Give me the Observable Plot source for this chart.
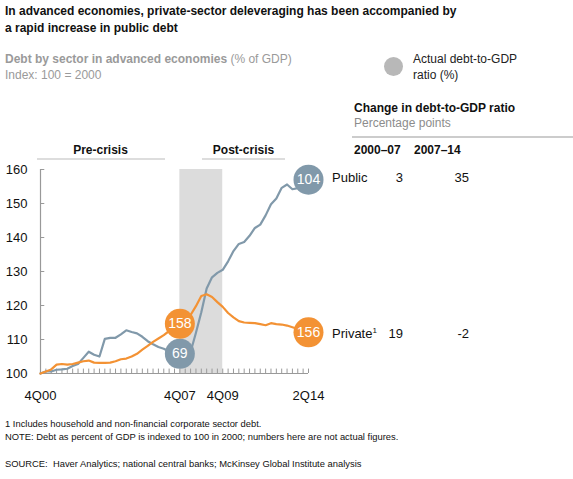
<!DOCTYPE html>
<html>
<head>
<meta charset="utf-8">
<script src="https://cdn.jsdelivr.net/npm/d3@7"></script>
<script src="https://cdn.jsdelivr.net/npm/@observablehq/plot@0.6"></script>
<style>
  html, body { margin: 0; padding: 0; background: #fff; }
  #root { position: relative; width: 573px; height: 479px; font-family: "Liberation Sans", Arial, Helvetica, sans-serif; overflow: hidden; }
  #root svg { position: absolute; left: 0; top: 0; }
  .t { position: absolute; white-space: nowrap; line-height: 1; }
</style>
</head>
<body>
<div id="root"></div>
<script>
// ---- data ----
const tickPos = [0, 26, 34, 50];
const tickLabels = ["4Q00", "4Q07", "4Q09", "2Q14"];
const yTicks = [100, 110, 120, 130, 140, 150, 160];
const bandStart = 26, bandEnd = 34;
const publicIdx = [100,100.6,100.6,101.1,101.2,101.4,102.2,102.8,104.6,106.4,105.5,105,110.2,110.5,110.5,111.5,112.7,112.2,111.8,110.8,109.5,108.6,107.8,107.3,106.5,106,105.8,106,106.3,112,118,125,128.3,129.6,130.5,133,136,138.1,138.7,140.5,142.8,143.8,146.5,149.8,151.5,154.6,155.6,154.2,154.5,156,157];
const privateIdx = [100,100.6,101.2,102.6,102.8,102.6,102.8,103.2,103.6,103.8,103.2,103.1,103.1,103.2,103.6,104.2,104.4,105,105.8,107,108.1,109.3,110.3,111.3,112.5,113.6,114.6,115.8,117.2,119.8,122.8,123.3,122.5,121,119.6,117.8,116.5,115.4,115,114.9,114.8,114.5,114.2,114.8,114.5,114.4,114.1,113.6,113.1,112.6,112.1];
const sectors = ["Public", "Private"];
const actualStart = [69, 158];   // actual debt-to-GDP at 4Q07
const actualEnd = [104, 156];    // actual debt-to-GDP at 2Q14
const change0007 = [3, 19];
const change0714 = [35, -2];

const colPublic = "#8199aa";
const colPrivate = "#f39234";
const sectorColors = [colPublic, colPrivate];
const series = [publicIdx, privateIdx];
const lastI = publicIdx.length - 1;

const linePublic = publicIdx.map((v, i) => ({x: i, y: v}));
const linePrivate = privateIdx.map((v, i) => ({x: i, y: v}));
const startDots = sectors.map((s, k) => ({x: bandStart, y: series[k][bandStart], label: actualStart[k], c: sectorColors[k]}));
const endDots = sectors.map((s, k) => ({x: lastI, y: series[k][lastI], label: actualEnd[k], c: sectorColors[k]}));

const chart = Plot.plot({
  width: 573, height: 479,
  marginLeft: 40, marginRight: 265, marginTop: 169, marginBottom: 106,
  style: {fontFamily: '"Liberation Sans", Arial, sans-serif', background: "transparent", overflow: "visible"},
  x: {domain: [0, lastI], label: null},
  y: {domain: [100, 160], label: null},
  marks: [
    Plot.rect([{x1: bandStart, x2: bandEnd}], {x1: "x1", x2: "x2", y1: 100, y2: 160, fill: "#dcdcdc"}),
    Plot.ruleX(d3.range(publicIdx.length), {y1: 100, y2: 101.3, stroke: "#999", strokeWidth: 1}),
    Plot.ruleY([100], {stroke: "#999", strokeWidth: 1.2}),
    Plot.ruleX([0], {y1: 100, y2: 160, stroke: "#999", strokeWidth: 1.2}),
    Plot.ruleY(yTicks.slice(1), {x1: 0, x2: 0.8, stroke: "#999"}),
    Plot.axisY({ticks: yTicks, tickSize: 0, tickPadding: 13, fontSize: 13, fill: "#111", label: null, tickFormat: d => d}),
    Plot.axisX({ticks: tickPos, tickSize: 0, tickPadding: 17, fontSize: 13, fill: "#111", label: null, tickFormat: d => tickLabels[tickPos.indexOf(d)]}),
    Plot.line(linePublic, {x: "x", y: "y", stroke: colPublic, strokeWidth: 2.2}),
    Plot.line(linePrivate, {x: "x", y: "y", stroke: colPrivate, strokeWidth: 2.2}),
    Plot.dot(startDots, {x: "x", y: "y", r: 15, fill: "c"}),
    Plot.dot(endDots, {x: "x", y: "y", r: 15, fill: "c"}),
    Plot.text(startDots, {x: "x", y: "y", text: "label", fill: "#fff", fontSize: 14}),
    Plot.text(endDots, {x: "x", y: "y", text: "label", fill: "#fff", fontSize: 14})
  ]
});

const root = document.getElementById("root");
root.appendChild(chart);

// text helper: position by baseline
function txt(html, x, baseline, size, opts = {}) {
  const d = document.createElement("div");
  d.className = "t";
  d.innerHTML = html;
  d.style.fontSize = size + "px";
  d.style.top = (baseline - 0.8465 * size) + "px";
  d.style.color = opts.color || "#111";
  if (opts.bold) d.style.fontWeight = "bold";
  if (opts.align === "center") { d.style.left = x + "px"; d.style.transform = "translateX(-50%)"; }
  else if (opts.align === "right") { d.style.right = (573 - x) + "px"; }
  else d.style.left = x + "px";
  root.appendChild(d);
  return d;
}
function hline(x1, x2, y, color, w) {
  const d = document.createElement("div");
  d.style.position = "absolute";
  d.style.left = x1 + "px"; d.style.width = (x2 - x1) + "px";
  d.style.top = (y - w / 2) + "px"; d.style.height = w + "px";
  d.style.background = color;
  root.appendChild(d);
}

txt("In advanced economies, private-sector deleveraging has been accompanied by", 5, 15, 12, {bold: true});
txt("a rapid increase in public debt", 5, 32, 12, {bold: true});
txt('<b>Debt by sector in advanced economies</b> (% of GDP)', 5, 63.5, 12, {color: "#9a9a9a"});
txt("Index: 100 = 2000", 5, 79.5, 12, {color: "#9a9a9a"});

// legend
const lg = document.createElement("div");
lg.style.cssText = "position:absolute;left:383.5px;top:56.5px;width:19px;height:19px;border-radius:50%;background:#b8b8b8;";
root.appendChild(lg);
txt("Actual debt-to-GDP", 413, 63.5, 12, {color: "#222"});
txt("ratio (%)", 413, 79.5, 12, {color: "#222"});

// table header
txt("Change in debt-to-GDP ratio", 354, 112.5, 12, {bold: true});
txt("Percentage points", 354, 127.5, 12, {color: "#8c8c8c"});
hline(352, 573, 137, "#cccccc", 2);
txt("2000–07", 354, 154, 12, {bold: true});
txt("2007–14", 414, 154, 12, {bold: true});

// period labels
txt("Pre-crisis", 100.5, 154, 12, {bold: true, align: "center"});
txt("Post-crisis", 243.5, 154, 12, {bold: true, align: "center"});
hline(37, 165, 159, "#dddddd", 1.5);
hline(202, 285, 159, "#dddddd", 1.5);

// row labels + table values
txt("Public", 332, 182, 13);
txt('Private<sup style="font-size:8px;vertical-align:5px">1</sup>', 332, 338, 13);
txt(String(change0007[0]), 403, 182, 13, {align: "right"});
txt(String(change0714[0]), 469, 182, 13, {align: "right"});
txt(String(change0007[1]), 403, 338, 13, {align: "right"});
txt(String(change0714[1]), 469, 338, 13, {align: "right"});

// footnotes
txt("1 Includes household and non-financial corporate sector debt.", 5, 426.5, 9.4);
txt("NOTE: Debt as percent of GDP is indexed to 100 in 2000; numbers here are not actual figures.", 5, 439.5, 9.4);
txt("SOURCE:&nbsp; Haver Analytics; national central banks; McKinsey Global Institute analysis", 5, 466.5, 9.4);
</script>
</body>
</html>
